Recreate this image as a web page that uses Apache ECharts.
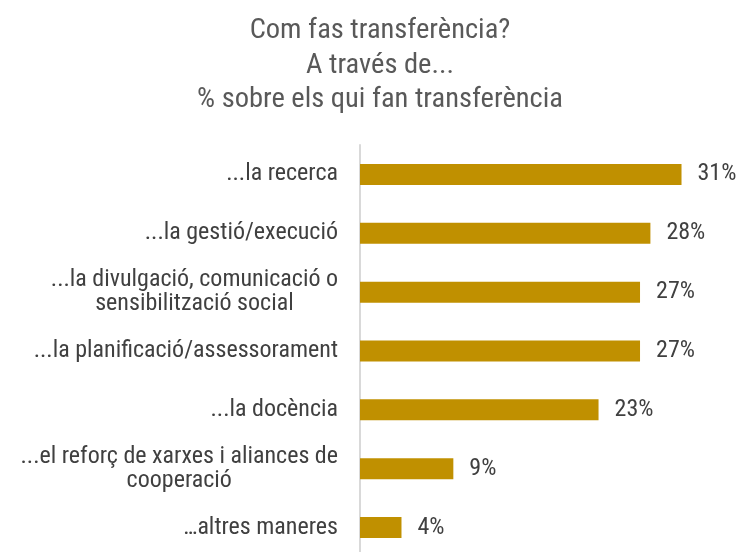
<!DOCTYPE html>
<html>
<head>
<meta charset="utf-8">
<script src="https://cdn.jsdelivr.net/npm/echarts@6/dist/echarts.min.js"></script>
<style>
  html, body { margin: 0; padding: 0; background: #ffffff; }
  #chart { width: 740px; height: 552px; }
</style>
</head>
<body>
<div id="chart"></div>
<script>
// Ways of doing knowledge transfer, share of respondents who do transfer (%)
const titleLines = [
  'Com fas transferència?',
  'A través de...',
  '% sobre els qui fan transferència'
];
const categories = [
  '...la recerca',
  '...la gestió/execució',
  '...la divulgació, comunicació o\nsensibilització social',
  '...la planificació/assessorament',
  '...la docència',
  '...el reforç de xarxes i aliances de\ncooperació',
  '…altres maneres'
];
const values = [31, 28, 27, 27, 23, 9, 4];

const FONT = '"Roboto Condensed", "Liberation Sans Narrow", "Arial Narrow", sans-serif';
const BAR_COLOR = '#C09000';

const chart = echarts.init(document.getElementById('chart'), null, { renderer: 'canvas' });

chart.setOption({
  backgroundColor: '#ffffff',
  animation: false,
  title: {
    text: titleLines.join('\n'),
    left: 375,
    top: 9,
    textAlign: 'center',
    textStyle: {
      fontFamily: FONT,
      fontSize: 28.5,
      fontWeight: 'normal',
      color: '#595959',
      lineHeight: 34.5
    }
  },
  grid: {
    left: 360,
    right: 17,
    top: 145,
    bottom: -5,
    containLabel: false,
    outerBoundsMode: 'none'
  },
  xAxis: {
    type: 'value',
    min: 0,
    max: 35,
    show: false
  },
  yAxis: {
    type: 'category',
    data: categories,
    inverse: true,
    axisLine: { show: true, lineStyle: { color: '#D9D9D9', width: 2 } },
    axisTick: { show: false },
    axisLabel: {
      margin: 22,
      fontFamily: FONT,
      fontSize: 24,
      color: '#404040',
      lineHeight: 24,
      formatter: function (v) {
        return v.split('\n').map(function (l) { return '{c|' + l + '}'; }).join('\n');
      },
      rich: {
        c: {
          align: 'center',
          fontFamily: FONT,
          fontSize: 24,
          color: '#404040',
          lineHeight: 24
        }
      }
    }
  },
  series: [{
    type: 'bar',
    data: values,
    barWidth: 21,
    itemStyle: { color: BAR_COLOR },
    label: {
      show: true,
      position: 'right',
      distance: 16,
      formatter: '{c}%',
      fontFamily: FONT,
      fontSize: 24,
      color: '#404040'
    }
  }]
});
</script>
</body>
</html>
